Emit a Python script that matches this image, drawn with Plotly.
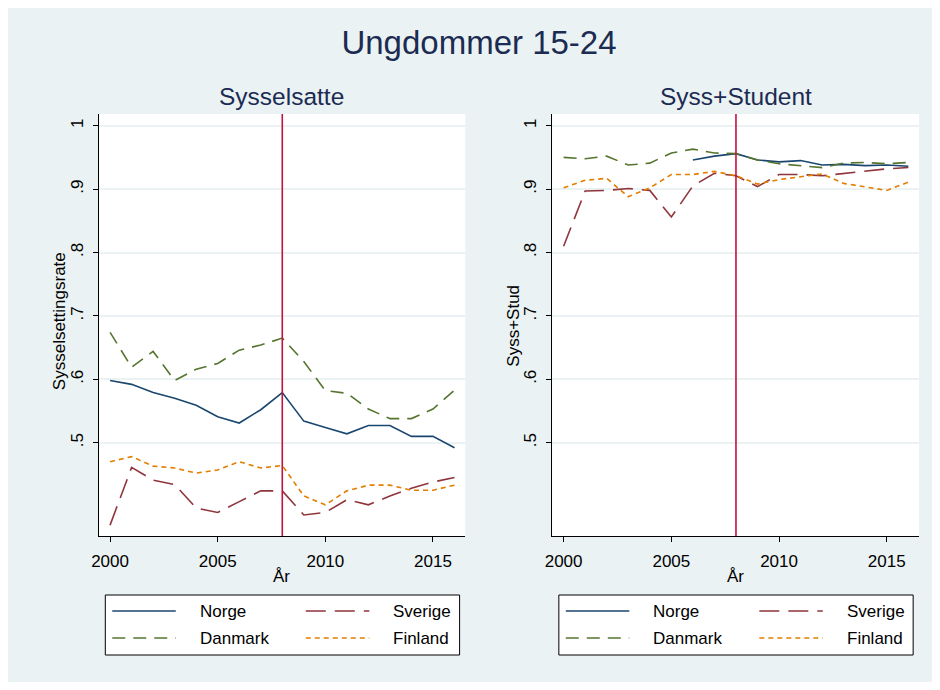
import plotly.graph_objects as go

years = list(range(2000, 2017))

# Sysselsatte (employment rate)
sys_norge = [0.598, 0.592, 0.579, 0.570, 0.559, 0.541, 0.531, 0.552, 0.579, 0.534,
             0.524, 0.514, 0.527, 0.527, 0.510, 0.510, 0.492]
sys_sverige = [0.370, 0.461, 0.441, 0.434, 0.397, 0.390, 0.407, 0.424, 0.424, 0.386,
               0.390, 0.410, 0.402, 0.416, 0.428, 0.438, 0.445]
sys_danmark = [0.674, 0.619, 0.644, 0.598, 0.616, 0.625, 0.646, 0.654, 0.665, 0.628,
               0.582, 0.578, 0.553, 0.538, 0.538, 0.553, 0.583]
sys_finland = [0.470, 0.478, 0.463, 0.460, 0.452, 0.457, 0.470, 0.460, 0.464, 0.416,
               0.402, 0.424, 0.433, 0.433, 0.425, 0.425, 0.433]

# Syss+Student
stud_norge = [None, None, None, None, None, None, 0.946, 0.952, 0.956, 0.946,
              0.943, 0.945, 0.938, 0.939, 0.937, 0.938, 0.936]
stud_sverige = [0.810, 0.897, 0.898, 0.901, 0.898, 0.856, 0.905, 0.925, 0.921, 0.904,
                0.923, 0.923, 0.921, 0.925, 0.928, 0.932, 0.934]
stud_danmark = [0.950, 0.948, 0.952, 0.938, 0.941, 0.957, 0.963, 0.957, 0.956, 0.946,
                0.940, 0.937, 0.934, 0.941, 0.942, 0.940, 0.942]
stud_finland = [0.902, 0.914, 0.917, 0.888, 0.902, 0.923, 0.923, 0.928, 0.921, 0.908,
                0.915, 0.920, 0.924, 0.909, 0.904, 0.898, 0.911]

countries = ["Norge", "Sverige", "Danmark", "Finland"]
colors = {"Norge": "#1a476f", "Sverige": "#90353b", "Danmark": "#55752f", "Finland": "#e37e00"}
dashes = {"Norge": "solid", "Sverige": "20px,9px", "Danmark": "13px,8px", "Finland": "5px,4px"}

ytickvals = [0.5, 0.6, 0.7, 0.8, 0.9, 1.0]
yticktext = [".5", ".6", ".7", ".8", ".9", "1"]
xtickvals = [2000, 2005, 2010, 2015]
ref_year = 2008

FONT = "Arial, Liberation Sans, sans-serif"
BG = "#eaf2f3"
W, H = 924, 674
OX, OY = 8, 8  # page offset of the figure (body margin)


def fx(p):
    return (p - OX) / W


def fy(p):
    return 1 - (p - OY) / H


fig = go.Figure()

left = {"Norge": sys_norge, "Sverige": sys_sverige, "Danmark": sys_danmark, "Finland": sys_finland}
right = {"Norge": stud_norge, "Sverige": stud_sverige, "Danmark": stud_danmark, "Finland": stud_finland}

for c in countries:
    fig.add_trace(go.Scatter(x=years, y=left[c], mode="lines", name=c, showlegend=False,
                             line=dict(color=colors[c], width=1.6, dash=dashes[c]),
                             xaxis="x", yaxis="y"))
for c in countries:
    fig.add_trace(go.Scatter(x=years, y=right[c], mode="lines", name=c, showlegend=False,
                             line=dict(color=colors[c], width=1.6, dash=dashes[c]),
                             xaxis="x2", yaxis="y2"))

xrange_ = [1999.47, 2016.5]
yrange_ = [0.3528, 1.0185]

xcommon = dict(range=xrange_, tickvals=xtickvals, ticks="outside", ticklen=5, tickwidth=1,
               tickcolor="#000000", showline=True, linecolor="#000000", linewidth=1.3,
               ticklabelstandoff=4,
               showgrid=False, zeroline=False, tickfont=dict(size=17, color="#000000", family=FONT))
ycommon = dict(range=yrange_, tickvals=ytickvals, ticktext=yticktext, tickangle=-90,
               ticks="outside", ticklen=5, tickwidth=1, tickcolor="#000000",
               showline=True, linecolor="#000000", linewidth=1.3, ticklabelstandoff=3,
               showgrid=True, gridcolor=BG, gridwidth=1.5, zeroline=False,
               tickfont=dict(size=17, color="#000000", family=FONT))

fig.update_layout(
    width=W, height=H,
    margin=dict(l=0, r=0, t=0, b=0),
    paper_bgcolor=BG,
    plot_bgcolor="white",
    showlegend=False,
    font=dict(family=FONT, color="#000000"),
    title=dict(text="Ungdommer 15-24", x=fx(479), xanchor="center", y=fy(42), yanchor="middle",
               font=dict(size=33, color="#1c2b52", family=FONT)),
    xaxis=dict(domain=[fx(92.3), fx(461.7)], anchor="y", **xcommon),
    yaxis=dict(domain=[fy(536), fy(114)], anchor="x", **ycommon),
    xaxis2=dict(domain=[fx(549.3), fx(919)], anchor="y2", **xcommon),
    yaxis2=dict(domain=[fy(536), fy(114)], anchor="x2", **ycommon),
)

shapes = [
    dict(type="line", xref="x", yref="y domain", x0=ref_year, x1=ref_year, y0=0, y1=1,
         line=dict(color="#c4123f", width=1.6)),
    dict(type="line", xref="x2", yref="y2 domain", x0=ref_year, x1=ref_year, y0=0, y1=1,
         line=dict(color="#c4123f", width=1.6)),
]

annotations = [
    dict(text="Sysselsatte", x=fx(277), y=fy(97), xref="paper", yref="paper",
         xanchor="center", yanchor="middle", showarrow=False,
         font=dict(size=24.5, color="#1c2b52", family=FONT)),
    dict(text="Syss+Student", x=fx(734), y=fy(97), xref="paper", yref="paper",
         xanchor="center", yanchor="middle", showarrow=False,
         font=dict(size=24.5, color="#1c2b52", family=FONT)),
    dict(text="År", x=fx(277), y=fy(576), xref="paper", yref="paper",
         xanchor="center", yanchor="middle", showarrow=False,
         font=dict(size=17, color="#000000", family=FONT)),
    dict(text="År", x=fx(734), y=fy(576), xref="paper", yref="paper",
         xanchor="center", yanchor="middle", showarrow=False,
         font=dict(size=17, color="#000000", family=FONT)),
    dict(text="Sysselsettingsrate", x=fx(52.5), y=fy(321), xref="paper", yref="paper",
         xanchor="center", yanchor="middle", showarrow=False, textangle=-90,
         font=dict(size=17, color="#000000", family=FONT)),
    dict(text="Syss+Stud", x=fx(509.5), y=fy(326), xref="paper", yref="paper",
         xanchor="center", yanchor="middle", showarrow=False, textangle=-90,
         font=dict(size=17, color="#000000", family=FONT)),
]

# Legend keys (one box under each panel, two columns)
legend_origins = [99, 556]
key_slots = {"Norge": (0, 0), "Sverige": (1, 0), "Danmark": (0, 1), "Finland": (1, 1)}
for ox in legend_origins:
    shapes.append(dict(type="rect", xref="paper", yref="paper",
                       x0=fx(ox), x1=fx(ox + 357), y0=fy(655), y1=fy(595),
                       fillcolor="white", line=dict(color="#000000", width=1)))
    for c in countries:
        col, row = key_slots[c]
        ly = 611 + row * 27
        lx0 = ox + 7 + col * 195
        shapes.append(dict(type="line", xref="paper", yref="paper",
                           x0=fx(lx0), x1=fx(lx0 + 64), y0=fy(ly), y1=fy(ly),
                           line=dict(color=colors[c], width=1.6, dash=dashes[c])))
        annotations.append(dict(text=c, x=fx(lx0 + 86), y=fy(ly), xref="paper", yref="paper",
                                xanchor="left", yanchor="middle", showarrow=False,
                                font=dict(size=17, color="#000000", family=FONT)))

fig.update_layout(shapes=shapes, annotations=annotations)

fig.write_html("out.html")
